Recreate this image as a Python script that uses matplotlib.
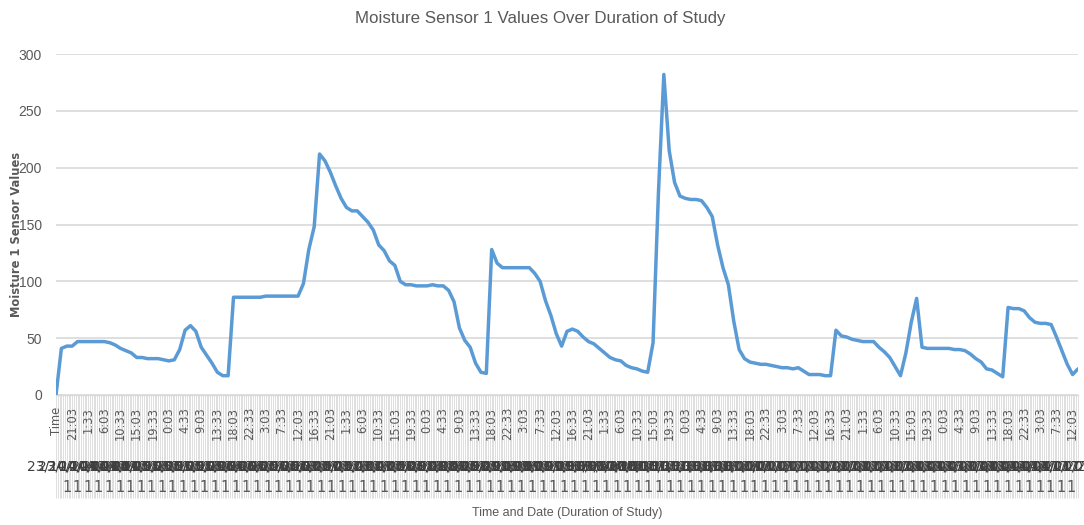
import matplotlib
matplotlib.use("Agg")
import matplotlib.pyplot as plt
import numpy as np

# ---------------- data ----------------
# sensor readings, one per category (90-minute steps), first category is the "Time" header
moisture_values = [
    0, 41, 43, 43, 47, 47, 47, 47, 47, 47,
    46, 44, 41, 39, 37, 33, 33, 32, 32, 32,
    31, 30, 31, 40, 57, 61, 56, 42, 35, 28,
    20, 17, 17, 86, 86, 86, 86, 86, 86, 87,
    87, 87, 87, 87, 87, 87, 98, 128, 148, 212,
    206, 196, 184, 173, 165, 162, 162, 157, 152, 145,
    132, 127, 118, 114, 100, 97, 97, 96, 96, 96,
    97, 96, 96, 92, 82, 59, 48, 42, 28, 20,
    19, 128, 116, 112, 112, 112, 112, 112, 112, 107,
    100, 83, 70, 54, 43, 56, 58, 56, 51, 47,
    45, 41, 37, 33, 31, 30, 26, 24, 23, 21,
    20, 46, 178, 282, 215, 187, 175, 173, 172, 172,
    171, 165, 157, 132, 112, 97, 65, 40, 32, 29,
    28, 27, 27, 26, 25, 24, 24, 23, 24, 21,
    18, 18, 18, 17, 17, 57, 52, 51, 49, 48,
    47, 47, 47, 42, 38, 33, 25, 17, 37, 64,
    85, 42, 41, 41, 41, 41, 41, 40, 40, 39,
    36, 32, 29, 23, 22, 19, 16, 77, 76, 76,
    74, 68, 64, 63, 63, 62, 51, 39, 27, 18,
    23,
]

# visible time labels (every third category)
time_labels = ["Time"] + [
    "21:03", "1:33", "6:03", "10:33", "15:03", "19:33", "0:03", "4:33",
    "9:03", "13:33", "18:03", "22:33", "3:03", "7:33", "12:03", "16:33",
    "21:03", "1:33", "6:03", "10:33", "15:03", "19:33", "0:03", "4:33",
    "9:03", "13:33", "18:03", "22:33", "3:03", "7:33", "12:03", "16:33",
    "21:03", "1:33", "6:03", "10:33", "15:03", "19:33", "0:03", "4:33",
    "9:03", "13:33", "18:03", "22:33", "3:03", "7:33", "12:03", "16:33",
    "21:03", "1:33", "6:03", "10:33", "15:03", "19:33", "0:03", "4:33",
    "9:03", "13:33", "18:03", "22:33", "3:03", "7:33", "12:03",
]
label_step = 3

dates = ["23/10/2017", "24/10/2017", "25/10/2017", "26/10/2017", "27/10/2017",
         "28/10/2017", "29/10/2017", "30/10/2017", "31/10/2017", "01/11/2017",
         "02/11/2017", "03/11/2017", "04/11/2017"]
group_label = "1"
n_groups = 96

y_ticks = [0, 50, 100, 150, 200, 250, 300]

title = "Moisture Sensor 1 Values Over Duration of Study"
xlabel = "Time and Date (Duration of Study)"
ylabel = "Moisture 1 Sensor Values"

# ---------------- style ----------------
GRAY_TXT = "#595959"
LINE_BLUE = "#5B9BD5"
GRID = "#d9d9d9"
NARROW = ["Liberation Sans Narrow", "Liberation Sans", "DejaVu Sans"]

W, H = 1084, 525
fig = plt.figure(figsize=(W / 100, H / 100), dpi=100)
left_px, right_px, top_px, bottom_px = 56, 1078, 54, 395
ax = fig.add_axes([left_px / W, 1 - bottom_px / H,
                   (right_px - left_px) / W, (bottom_px - top_px) / H])

n = len(moisture_values)
x = np.arange(n)
ax.plot(x, moisture_values, color=LINE_BLUE, lw=2.5, solid_joinstyle="round",
        solid_capstyle="round", zorder=3)

ax.set_xlim(0, n - 1)
ax.set_ylim(0, 300)
ax.set_yticks(y_ticks)
ax.set_yticklabels([str(v) for v in y_ticks], family=NARROW, fontsize=10, color=GRAY_TXT)
ax.tick_params(axis="y", length=0, pad=10)
ax.yaxis.grid(True, color=GRID, lw=1.2)
ax.set_axisbelow(True)
for s in ["left", "right", "top"]:
    ax.spines[s].set_visible(False)
ax.spines["bottom"].set_color(GRID)
ax.spines["bottom"].set_linewidth(1.0)

ax.set_xticks([])

trans = ax.get_xaxis_transform()
px = 1.0 / (bottom_px - top_px)  # one pixel in axes-fraction units

# gray category separator band
sep = np.arange(0, n - 1 + 1e-9, 1.0 / 3)
ax.vlines(sep, -103 * px, 0, transform=trans, colors="#d6d6d6", lw=0.55,
          clip_on=False, zorder=1)

# time labels
for k, lab in enumerate(time_labels):
    ax.text(k * label_step, -12 * px, lab, transform=trans, rotation=90,
            ha="center", va="top", fontsize=8.3, color=GRAY_TXT,
            family=["DejaVu Sans"], clip_on=False)

# group positions (second and third category levels; Excel draws them overlapping)
gpos = np.linspace(2, 188.8, n_groups)
for g in gpos:
    minutes = 16 * 60 + 33 + 90 * g
    d = dates[min(int(minutes // (24 * 60)), len(dates) - 1)]
    ax.text(g, -71 * px, d, transform=trans, ha="center", va="center",
            fontsize=10, color="#3f3f3f", family=["DejaVu Sans"], clip_on=False)
    ax.text(g, -92 * px, group_label, transform=trans, ha="center", va="center",
            fontsize=10.5, color=GRAY_TXT, family=["DejaVu Sans"], clip_on=False)

fig.text(540 / W, 1 - 18 / H, title, ha="center", va="center",
         fontsize=12.2, color=GRAY_TXT, family=NARROW)
fig.text(567 / W, 1 - 513 / H, xlabel, ha="center", va="center",
         fontsize=9, color=GRAY_TXT, family=NARROW)
fig.text(17 / W, 1 - 234 / H, ylabel, ha="center", va="center", rotation=90,
         fontsize=8.3, color=GRAY_TXT, family=["DejaVu Sans"], weight="bold")

fig.savefig("out.png", dpi=100)
